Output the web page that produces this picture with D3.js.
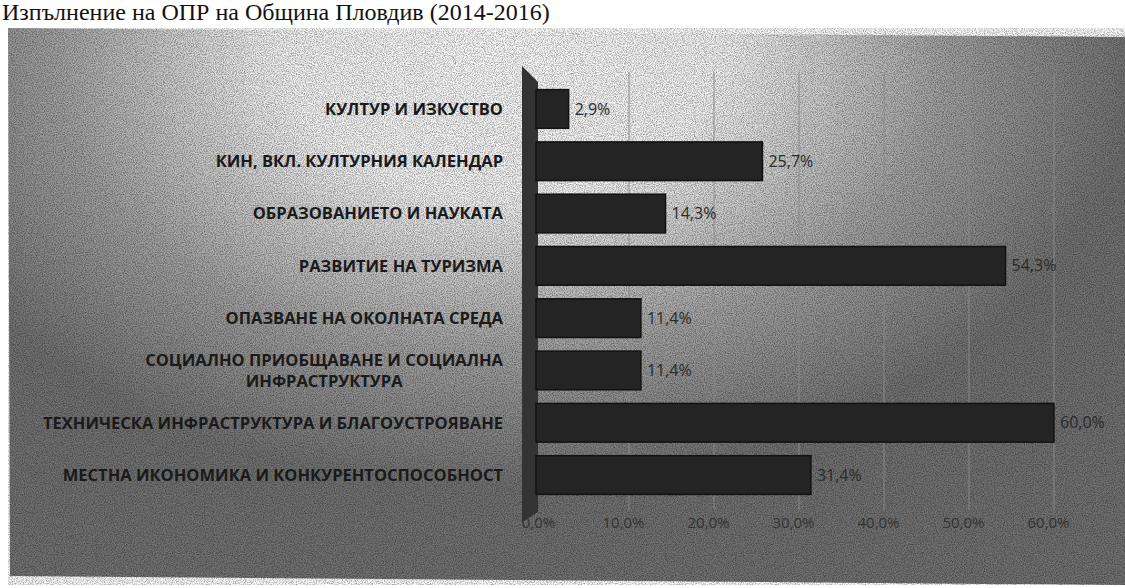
<!DOCTYPE html>
<html>
<head>
<meta charset="utf-8">
<script src="https://cdn.jsdelivr.net/npm/d3@7"></script>
<style>
  html, body { margin: 0; padding: 0; background: #fff; }
  svg { display: block; }
</style>
</head>
<body>
<div id="chart"></div>
<script>
const categories = [
    "КУЛТУР И ИЗКУСТВО",
    "КИН, ВКЛ. КУЛТУРНИЯ КАЛЕНДАР",
    "ОБРАЗОВАНИЕТО И НАУКАТА",
    "РАЗВИТИЕ НА ТУРИЗМА",
    "ОПАЗВАНЕ НА ОКОЛНАТА СРЕДА",
    "СОЦИАЛНО ПРИОБЩАВАНЕ И СОЦИАЛНА|ИНФРАСТРУКТУРА",
    "ТЕХНИЧЕСКА ИНФРАСТРУКТУРА И БЛАГОУСТРОЯВАНЕ",
    "МЕСТНА ИКОНОМИКА И КОНКУРЕНТОСПОСОБНОСТ"
];
const values = [2.9, 25.7, 14.3, 54.3, 11.4, 11.4, 60.0, 31.4];
const tickValues = [0, 10, 20, 30, 40, 50, 60];
const title = "Изпълнение на ОПР на Община Пловдив (2014-2016)";

const width = 1125;
const height = 588;

const svg = d3.select("#chart")
    .append("svg")
    .attr("width", width)
    .attr("height", height);

const defs = svg.append("defs");

// photocopy look: light patch top-centre, darker to the right and bottom
const grad = defs.append("radialGradient")
    .attr("id", "paper")
    .attr("gradientUnits", "userSpaceOnUse")
    .attr("cx", 500).attr("cy", 40).attr("r", 640)
    .attr("gradientTransform", "translate(500,40) scale(1,0.7) translate(-500,-40)");
grad.append("stop").attr("offset", "0%").attr("stop-color", "#ffffff");
grad.append("stop").attr("offset", "35%").attr("stop-color", "#f4f4f4");
grad.append("stop").attr("offset", "70%").attr("stop-color", "#a2a2a2");
grad.append("stop").attr("offset", "100%").attr("stop-color", "#727272");

const grain = defs.append("filter").attr("id", "grain")
    .attr("x", 0).attr("y", 0).attr("width", 1).attr("height", 1);
grain.append("feTurbulence")
    .attr("type", "fractalNoise")
    .attr("baseFrequency", 0.9)
    .attr("numOctaves", 2)
    .attr("seed", 3)
    .attr("result", "noise");
grain.append("feColorMatrix")
    .attr("type", "matrix")
    .attr("values", "0 0 0 0 0  0 0 0 0 0  0 0 0 0 0  0 0 0 -1.6 1.05");

// title
svg.append("text")
    .attr("x", 2)
    .attr("y", 20)
    .style("font-family", "'Liberation Serif', serif")
    .style("font-size", "24px")
    .style("fill", "#111")
    .text(title);

const area = [[8, 28], [1125, 37], [1125, 585], [10, 576]];
svg.append("polygon")
    .attr("points", area.map(p => p.join(",")).join(" "))
    .attr("fill", "url(#paper)");
svg.append("polygon")
    .attr("points", area.map(p => p.join(",")).join(" "))
    .attr("fill", "#000")
    .attr("opacity", 0.5)
    .attr("filter", "url(#grain)");

const x = d3.scaleLinear()
    .domain([0, 60])
    .range([544, 1054]);

const y = d3.scaleBand()
    .domain(categories)
    .range([76, 508])
    .padding(0.26);

// gridlines
svg.append("g")
    .attr("class", "grid")
    .selectAll("line")
    .data(tickValues.slice(1))
    .enter().append("line")
    .attr("x1", d => x(d))
    .attr("x2", d => x(d))
    .attr("y1", 72)
    .attr("y2", 510)
    .attr("stroke", "#8a8a8a")
    .attr("stroke-width", 1.2)
    .attr("opacity", 0.8);

// 3D back wall on the left
const wallX = x(0) - 22;
svg.append("polygon")
    .attr("points", [
        [wallX, 66], [x(0) - 6, 82], [x(0) - 6, 512], [wallX, 522]
    ].map(p => p.join(",")).join(" "))
    .attr("fill", "#333");

// bars
svg.append("g")
    .attr("class", "bars")
    .selectAll("rect")
    .data(values)
    .enter().append("rect")
    .attr("x", x(0) - 8)
    .attr("y", (d, i) => y(categories[i]))
    .attr("width", d => x(d) - x(0) + 8)
    .attr("height", y.bandwidth())
    .attr("fill", "#242424")
    .attr("stroke", "#121212")
    .attr("stroke-width", 1.5);

const fmt = v => d3.format(".1f")(v).replace(".", ",") + "%";

// value labels
svg.append("g")
    .attr("class", "value-labels")
    .selectAll("text")
    .data(values)
    .enter().append("text")
    .attr("x", d => x(d) + 6)
    .attr("y", (d, i) => y(categories[i]) + y.bandwidth() / 2)
    .attr("dy", "0.35em")
    .style("font-family", "'Open Sans', sans-serif")
    .style("font-size", "16px")
    .style("fill", "#2a2a2a")
    .text(d => fmt(d));

// category labels, right aligned, multi-line blocks centred
const labelRight = 503;
const catG = svg.append("g").attr("class", "cat-labels");
categories.forEach(c => {
    const lines = c.split("|");
    const cy = y(c) + y.bandwidth() / 2;
    const t = catG.append("text")
        .style("font-family", "'Open Sans', sans-serif")
        .style("font-weight", "700")
        .style("font-size", "16.5px")
        .style("fill", "#1a1a1a");
    if (lines.length === 1) {
        t.attr("x", labelRight).attr("y", cy).attr("dy", "0.35em")
            .attr("text-anchor", "end").text(c);
    } else {
        t.attr("text-anchor", "middle");
        const spans = lines.map((l, k) => t.append("tspan")
            .attr("y", cy + (k - (lines.length - 1) / 2) * 21)
            .attr("dy", "0.35em")
            .text(l));
        const w = d3.max(spans, s => s.node().getComputedTextLength());
        spans.forEach(s => s.attr("x", labelRight - w / 2));
    }
});

// x axis
const xAxis = d3.axisBottom(x)
    .tickValues(tickValues)
    .tickFormat(fmt)
    .tickSize(0);

const axisG = svg.append("g")
    .attr("transform", "translate(-6,514)")
    .call(xAxis);
axisG.select(".domain").remove();
axisG.selectAll("text")
    .style("font-family", "'Open Sans', sans-serif")
    .style("font-size", "15px")
    .style("fill", "#333");
</script>
</body>
</html>
